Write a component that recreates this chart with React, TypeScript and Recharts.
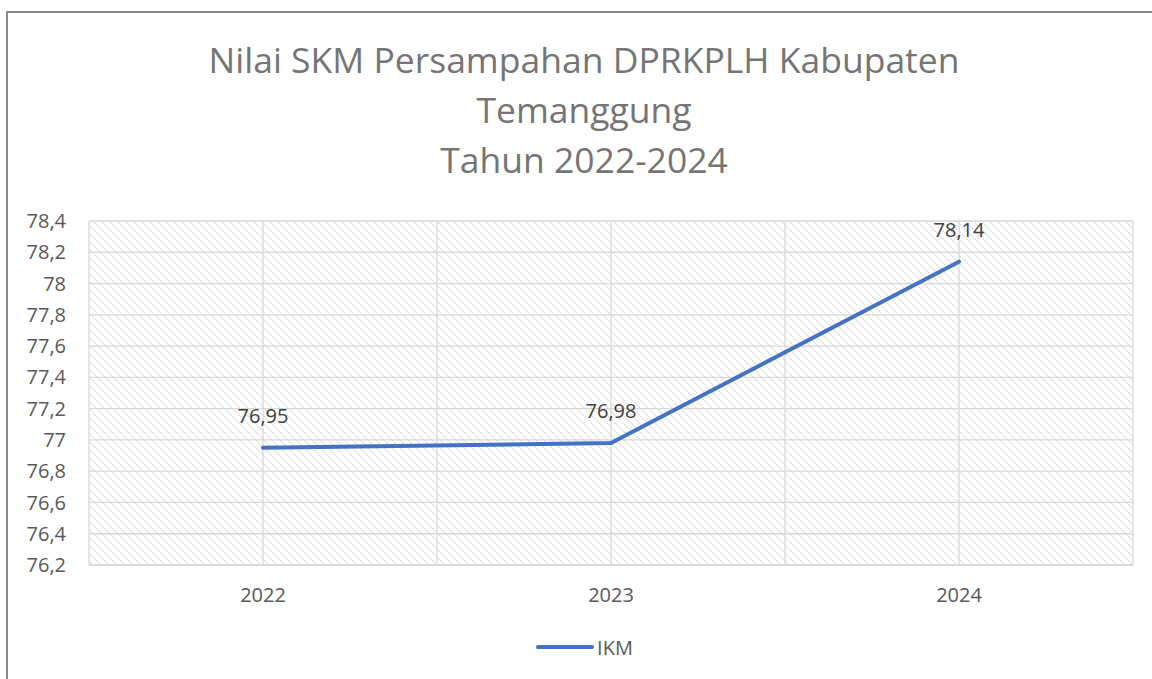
import { CartesianGrid, LabelList, Legend, Line, LineChart, XAxis, YAxis } from "recharts";

const years = ["2022", "2023", "2024"];
const ikm = [76.95, 76.98, 78.14];
const yTicks = [76.2, 76.4, 76.6, 76.8, 77, 77.2, 77.4, 77.6, 77.8, 78, 78.2, 78.4];
const xTicks = [-0.5, 0, 0.5, 1, 1.5, 2, 2.5];
const titleLines = ["Nilai SKM Persampahan DPRKPLH Kabupaten", "Temanggung", "Tahun 2022-2024"];

const data = years.map((year, i) => ({ idx: i, year, ikm: ikm[i] }));

const font = "'Open Sans', 'Noto Sans', sans-serif";
const comma = (v: unknown) => String(v).replace(".", ",");

function IkmLegend() {
  return (
    <div style={{ height: 30, display: "flex", alignItems: "center", justifyContent: "center", fontFamily: font }}>
      <svg width={60} height={10} style={{ marginLeft: 26 }}>
        <line x1={3} y1={5} x2={57} y2={5} stroke="#4472C4" strokeWidth={4} strokeLinecap="round" />
      </svg>
      <span style={{ fontSize: 20, color: "#595959", marginLeft: 2 }}>IKM</span>
    </div>
  );
}

export default function App() {
  return (
    <div style={{ position: "absolute", left: 0, top: 0, width: 1152, height: 679, overflow: "hidden", background: "#fff" }}>
      <div
        style={{
          position: "absolute",
          left: 6,
          top: 11,
          width: 1200,
          height: 700,
          border: "2px solid #8a8a8a",
        }}
      />
      <div
        style={{
          position: "absolute",
          left: 184,
          top: 34,
          width: 800,
          textAlign: "center",
          fontFamily: font,
          fontSize: 35.5,
          lineHeight: "50px",
          color: "#757575",
        }}
      >
        {titleLines.map((t) => (
          <div key={t}>{t}</div>
        ))}
      </div>
      <LineChart
        width={1152}
        height={679}
        data={data}
        margin={{ top: 221, right: 19, left: 9, bottom: 17 }}
        style={{ position: "absolute", left: 0, top: 0 }}
      >
        <defs>
          <pattern id="hatch" patternUnits="userSpaceOnUse" width={8} height={8}>
            <path d="M0,0 L8,8 M-2,6 L2,10 M6,-2 L10,2" stroke="#dadada" strokeWidth={1.3} strokeDasharray="2 1" />
          </pattern>
        </defs>
        <CartesianGrid stroke="#d9d9d9" strokeWidth={1.3} fill="url(#hatch)" fillOpacity={1} />
        <XAxis
          type="number"
          dataKey="idx"
          domain={[-0.5, 2.5]}
          ticks={xTicks}
          tickFormatter={(v: number) => (Number.isInteger(v) ? years[v] : "")}
          axisLine={{ stroke: "#d9d9d9", strokeWidth: 1.3 }}
          tickLine={false}
          tickSize={8}
          tickMargin={15}
          height={67}
          tick={{ fontSize: 20, fill: "#595959", fontFamily: font }}
          interval={0}
        />
        <YAxis
          domain={[76.2, 78.4]}
          ticks={yTicks}
          tickFormatter={comma}
          axisLine={false}
          tickLine={false}
          tickSize={0}
          tickMargin={23}
          width={80}
          interval={0}
          tick={{ fontSize: 20, fill: "#595959", fontFamily: font }}
        />
        <Legend verticalAlign="bottom" align="center" content={() => <IkmLegend />} />
        <Line
          type="linear"
          dataKey="ikm"
          stroke="#4472C4"
          strokeWidth={4}
          strokeLinecap="round"
          dot={false}
          activeDot={false}
          isAnimationActive={false}
        >
          <LabelList dataKey="ikm" position="top" offset={25} fill="#404040" fontSize={20} fontFamily={font} formatter={comma} />
        </Line>
      </LineChart>
    </div>
  );
}
